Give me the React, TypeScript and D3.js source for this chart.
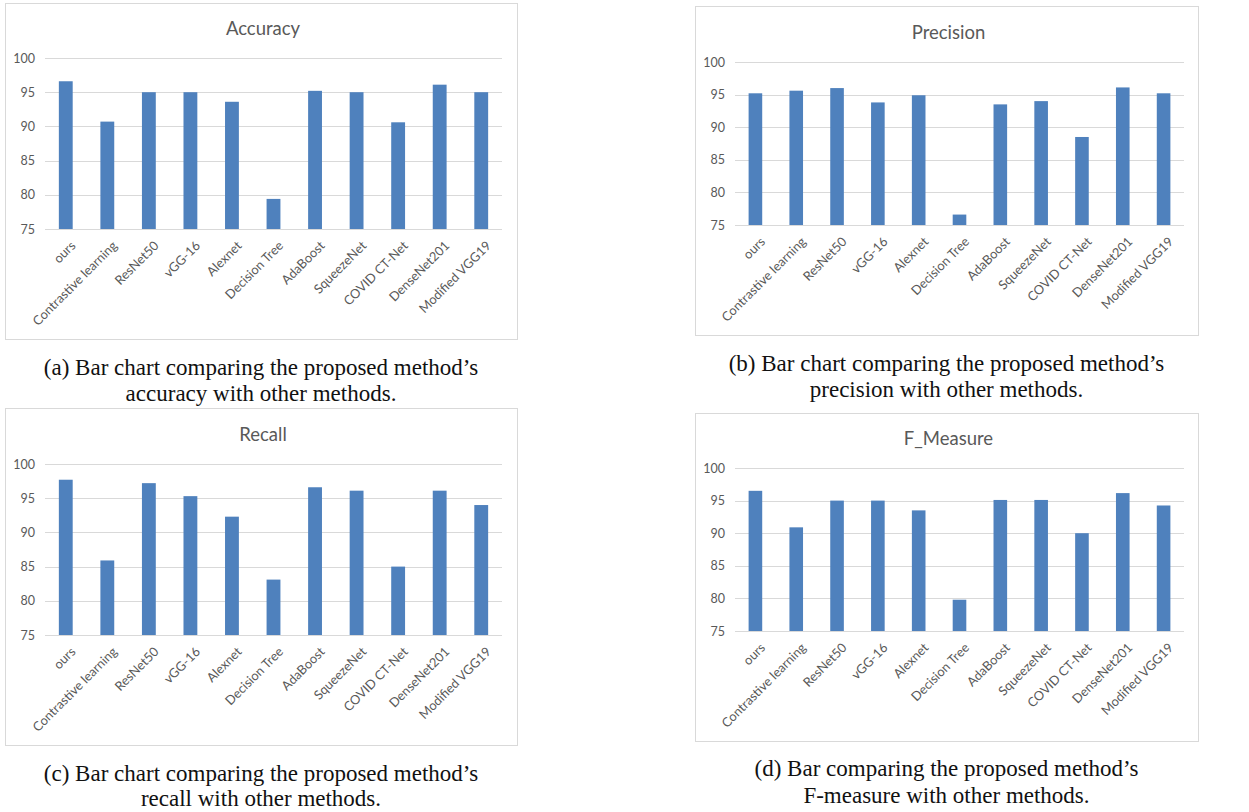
import { scaleBand, scaleLinear } from "d3";

const categories = [
  "ours",
  "Contrastive learning",
  "ResNet50",
  "vGG-16",
  "Alexnet",
  "Decision Tree",
  "AdaBoost",
  "SqueezeNet",
  "COVID CT-Net",
  "DenseNet201",
  "Modified VGG19",
];

const accuracy = [96.6, 90.7, 95.0, 95.0, 93.6, 79.4, 95.2, 95.0, 90.6, 96.1, 95.0];
const precision = [95.2, 95.6, 96.0, 93.8, 94.9, 76.6, 93.5, 94.0, 88.5, 96.1, 95.2];
const recall = [97.7, 85.9, 97.2, 95.3, 92.3, 83.1, 96.6, 96.1, 85.0, 96.1, 94.0];
const fMeasure = [96.5, 90.9, 95.0, 95.0, 93.5, 79.8, 95.1, 95.1, 90.0, 96.15, 94.25];

const yTicks = [75, 80, 85, 90, 95, 100];

const W = 1249;
const H = 812;
const BAR = "#4f81bd";
const TEXT = "#595959";
const GRID = "#d9d9d9";
const SANS = "Lato, 'Open Sans', sans-serif";
const SERIF = "'Liberation Serif', 'DejaVu Serif', serif";

type Panel = {
  title: string;
  values: number[];
  frame: { x: number; y: number; w: number; h: number };
  plot: { x0: number; x1: number; top: number; bottom: number };
  titleY: number;
  caption: string[];
  captionY: number[];
};

const panels: Panel[] = [
  {
    title: "Accuracy",
    values: accuracy,
    frame: { x: 5, y: 3, w: 512, h: 336 },
    plot: { x0: 45, x1: 502, top: 58, bottom: 229 },
    titleY: 28,
    caption: ["(a) Bar chart comparing the proposed method’s", "accuracy with other methods."],
    captionY: [367, 393],
  },
  {
    title: "Precision",
    values: precision,
    frame: { x: 695, y: 6, w: 503, h: 329 },
    plot: { x0: 735, x1: 1184, top: 62, bottom: 225 },
    titleY: 32,
    caption: ["(b) Bar chart comparing the proposed method’s", "precision with other methods."],
    captionY: [363, 389],
  },
  {
    title: "Recall",
    values: recall,
    frame: { x: 5, y: 408, w: 512, h: 337 },
    plot: { x0: 45, x1: 502, top: 464, bottom: 635 },
    titleY: 434,
    caption: ["(c) Bar chart comparing the proposed method’s", "recall with other methods."],
    captionY: [773, 798],
  },
  {
    title: "F_Measure",
    values: fMeasure,
    frame: { x: 695, y: 413, w: 503, h: 328 },
    plot: { x0: 735, x1: 1184, top: 468, bottom: 631 },
    titleY: 438,
    caption: ["(d) Bar comparing the proposed method’s", "F-measure with other methods."],
    captionY: [768, 795],
  },
];

function BarPanel({ panel }: { panel: Panel }) {
  const { frame, plot } = panel;
  const x = scaleBand<string>().domain(categories).range([plot.x0, plot.x1]);
  const y = scaleLinear().domain([75, 100]).range([plot.bottom, plot.top]);
  const slot = x.bandwidth();
  const barW = slot / 3;
  const frameCx = frame.x + frame.w / 2;

  return (
    <g>
      <rect
        x={frame.x + 0.5}
        y={frame.y + 0.5}
        width={frame.w}
        height={frame.h}
        fill="#fff"
        stroke="#d9d9d9"
      />
      <text
        x={frameCx + 2}
        y={panel.titleY}
        textAnchor="middle"
        dominantBaseline="central"
        fontFamily={SANS}
        fontSize={18.5}
        fill={TEXT}
      >
        {panel.title}
      </text>
      {yTicks.map((t) => (
        <g key={t}>
          <line
            x1={plot.x0}
            x2={plot.x1}
            y1={Math.round(y(t)) + 0.5}
            y2={Math.round(y(t)) + 0.5}
            stroke={GRID}
          />
          <text
            x={plot.x0 - 10}
            y={y(t)}
            textAnchor="end"
            dominantBaseline="central"
            fontFamily={SANS}
            fontSize={12.5}
            fill={TEXT}
          >
            {t}
          </text>
        </g>
      ))}
      {categories.map((c, i) => (
        <rect
          key={c}
          x={(x(c) ?? 0) + barW}
          y={y(panel.values[i])}
          width={barW}
          height={y(75) - y(panel.values[i])}
          fill={BAR}
        />
      ))}
      {categories.map((c) => {
        const px = (x(c) ?? 0) + slot / 2 + 7;
        const py = plot.bottom + 14;
        return (
          <text
            key={c}
            transform={`translate(${px},${py}) rotate(-45)`}
            textAnchor="end"
            dominantBaseline="central"
            fontFamily={SANS}
            fontSize={12.8}
            fill={TEXT}
          >
            {c}
          </text>
        );
      })}
      {panel.caption.map((line, i) => (
        <text
          key={line}
          x={frameCx}
          y={panel.captionY[i]}
          textAnchor="middle"
          dominantBaseline="central"
          fontFamily={SERIF}
          fontSize={23}
          fill="#111"
        >
          {line}
        </text>
      ))}
    </g>
  );
}

export default function App() {
  return (
    <div style={{ position: "absolute", left: 0, top: 0 }}>
      <svg width={W} height={H} viewBox={`0 0 ${W} ${H}`} style={{ display: "block" }}>
        <rect width={W} height={H} fill="#fff" />
        {panels.map((p) => (
          <BarPanel key={p.title} panel={p} />
        ))}
      </svg>
    </div>
  );
}
